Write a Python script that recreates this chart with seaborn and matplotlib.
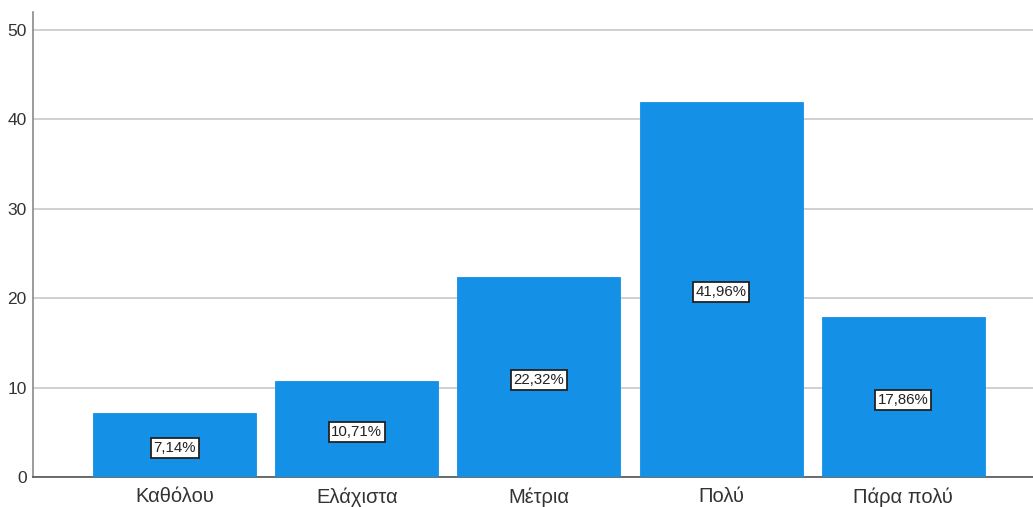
import matplotlib
matplotlib.use("Agg")
import matplotlib.pyplot as plt
import seaborn as sns
import pandas as pd

categories = ["Καθόλου", "Ελάχιστα", "Μέτρια", "Πολύ", "Πάρα πολύ"]
percentages = [7.14, 10.71, 22.32, 41.96, 17.86]
y_ticks = [0, 10, 20, 30, 40, 50]

df = pd.DataFrame({"category": categories, "percent": percentages})

sns.set_theme(style="white")
plt.rcParams["font.family"] = ["Liberation Sans", "DejaVu Sans"]

fig = plt.figure(figsize=(10.33, 5.07), dpi=100)
ax = fig.add_axes([33 / 1033, 30 / 507, 1 - 33 / 1033, 465 / 507])

bar_color = "#1490e6"
sns.barplot(data=df, x="category", y="percent", color=bar_color,
            saturation=1, width=0.895, ax=ax, zorder=3)

for p in ax.patches:
    p.set_edgecolor(bar_color)
    p.set_linewidth(0.6)

# percentage labels in boxes at the middle of each bar
for i, v in enumerate(percentages):
    label = f"{v:.2f}".replace(".", ",") + "%"
    ax.annotate(label, xy=(i, v / 2), xytext=(0, -2), textcoords="offset points",
                ha="center", va="center", fontsize=10.8, color="#222222", zorder=5,
                bbox=dict(boxstyle="square,pad=0.18", facecolor="white",
                          edgecolor="#222222", linewidth=1.3))

ax.set_xlim(-0.777, 4.712)
ax.set_ylim(0, 52)
ax.set_yticks(y_ticks)
ax.yaxis.grid(True, color="#c8c8c8", linewidth=1.2, zorder=0)
ax.xaxis.grid(False)
ax.set_axisbelow(True)

ax.set_xlabel("")
ax.set_ylabel("")
ax.tick_params(axis="x", length=0, pad=7.5, labelsize=14.5, colors="#333333")
ax.tick_params(axis="y", length=0, pad=4.5, labelsize=12.5, colors="#333333")

for side in ["top", "right"]:
    ax.spines[side].set_visible(False)
ax.spines["left"].set_color("#8a8a8a")
ax.spines["left"].set_linewidth(1.2)
ax.spines["bottom"].set_color("#555555")
ax.spines["bottom"].set_linewidth(1.2)

fig.savefig("out.png", dpi=100, facecolor="white")
